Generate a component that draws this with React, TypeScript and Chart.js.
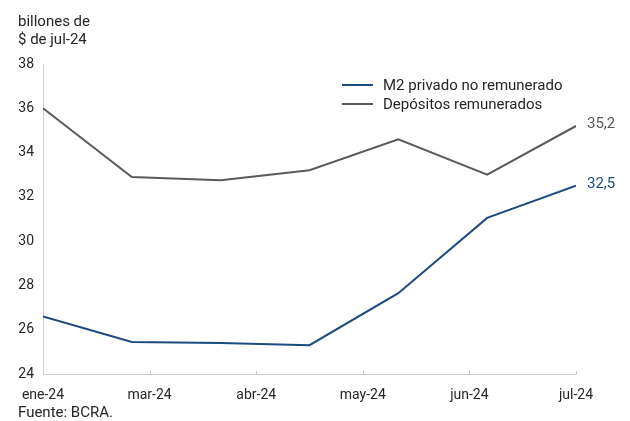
import React, { useEffect, useRef } from "react";
import { Chart, registerables } from "chart.js";

Chart.register(...registerables);

const months = ["ene", "feb", "mar", "abr", "may", "jun", "jul"];
const m2NoRemunerado = [26.6, 25.45, 25.4, 25.3, 27.65, 31.05, 32.5];
const depositosRemunerados = [36.0, 32.9, 32.75, 33.2, 34.6, 33.0, 35.2];
const xTickValues = [0, 1.2, 2.4, 3.6, 4.8, 6];
const xTickLabels = ["ene-24", "mar-24", "abr-24", "may-24", "jun-24", "jul-24"];
const seriesNames = ["M2 privado no remunerado", "Depósitos remunerados"];
const seriesColors = ["#1d4a7d", "#5a5a5a"];
const endLabels = ["32,5", "35,2"];
const titleLines = ["billones de", "$ de jul-24"];
const sourceText = "Fuente: BCRA.";

const FONT = "Roboto, 'Noto Sans', sans-serif";
const TEXT = "#262626";

const decorPlugin = {
  id: "decor",
  afterDraw(chart: any) {
    const ctx = chart.ctx;
    const xs = chart.scales.x;
    const ca = chart.chartArea;
    ctx.save();
    ctx.strokeStyle = "#c8c8c8";
    ctx.lineWidth = 1;
    xTickValues.forEach((v) => {
      const px = Math.round(xs.getPixelForValue(v)) + 0.5;
      ctx.beginPath();
      ctx.moveTo(px, ca.bottom);
      ctx.lineTo(px, ca.bottom - 3);
      ctx.stroke();
    });
    ctx.fillStyle = TEXT;
    ctx.font = `15px ${FONT}`;
    ctx.textAlign = "left";
    ctx.textBaseline = "middle";
    ctx.fillText(titleLines[0], 18, 22.5);
    ctx.fillText(titleLines[1], 18, 40.5);
    ctx.fillText(sourceText, 18, 413.5);
    chart.data.datasets.forEach((ds: any, i: number) => {
      const y = 85 + i * 19;
      ctx.strokeStyle = ds.borderColor;
      ctx.lineWidth = 2;
      ctx.beginPath();
      ctx.moveTo(342, y);
      ctx.lineTo(373, y);
      ctx.stroke();
      ctx.fillStyle = TEXT;
      ctx.fillText(ds.label, 383, y + 1);
    });
    chart.data.datasets.forEach((ds: any, i: number) => {
      const meta = chart.getDatasetMeta(i);
      const pt = meta.data[meta.data.length - 1];
      ctx.fillStyle = ds.borderColor;
      ctx.fillText(endLabels[i], pt.x + 11, pt.y - 2);
    });
    ctx.restore();
  },
};

export default function App() {
  const ref = useRef<HTMLCanvasElement>(null);
  useEffect(() => {
    const toPts = (arr: number[]) => arr.map((y, i) => ({ x: i, y }));
    const chart = new Chart(ref.current!, {
      type: "line",
      data: {
        labels: months,
        datasets: [
          { label: seriesNames[0], data: toPts(m2NoRemunerado), borderColor: seriesColors[0], backgroundColor: seriesColors[0], borderWidth: 2, pointRadius: 0, tension: 0 },
          { label: seriesNames[1], data: toPts(depositosRemunerados), borderColor: seriesColors[1], backgroundColor: seriesColors[1], borderWidth: 2, pointRadius: 0, tension: 0 },
        ],
      },
      options: {
        animation: false,
        responsive: false,
        maintainAspectRatio: false,
        layout: { padding: { top: 64, right: 54, left: 0, bottom: 0 } },
        plugins: { legend: { display: false }, tooltip: { enabled: false }, title: { display: false } },
        scales: {
          x: {
            type: "linear", min: 0, max: 6,
            afterBuildTicks: (scale: any) => { scale.ticks = xTickValues.map((v) => ({ value: v })); },
            afterFit: (scale: any) => { scale.height = 47; },
            grid: { display: false, drawTicks: false },
            border: { display: true, color: "#d0d0d0", width: 1 },
            ticks: { autoSkip: false, maxRotation: 0, padding: 13, color: TEXT, font: { family: FONT, size: 14 }, callback: (_v: any, i: number) => xTickLabels[i] },
          },
          y: {
            min: 24, max: 38,
            afterFit: (scale: any) => { scale.width = 43; },
            grid: { display: false, drawTicks: false },
            border: { display: true, color: "#d0d0d0", width: 1 },
            ticks: { stepSize: 2, padding: 9, color: TEXT, font: { family: FONT, size: 14 } },
          },
        },
      },
      plugins: [decorPlugin],
    } as any);
    return () => chart.destroy();
  }, []);
  return (
    <div style={{ position: "fixed", left: 0, top: 0, width: 630, height: 421, background: "#fff" }}>
      <canvas ref={ref} width={630} height={421} style={{ width: 630, height: 421 }} />
    </div>
  );
}
